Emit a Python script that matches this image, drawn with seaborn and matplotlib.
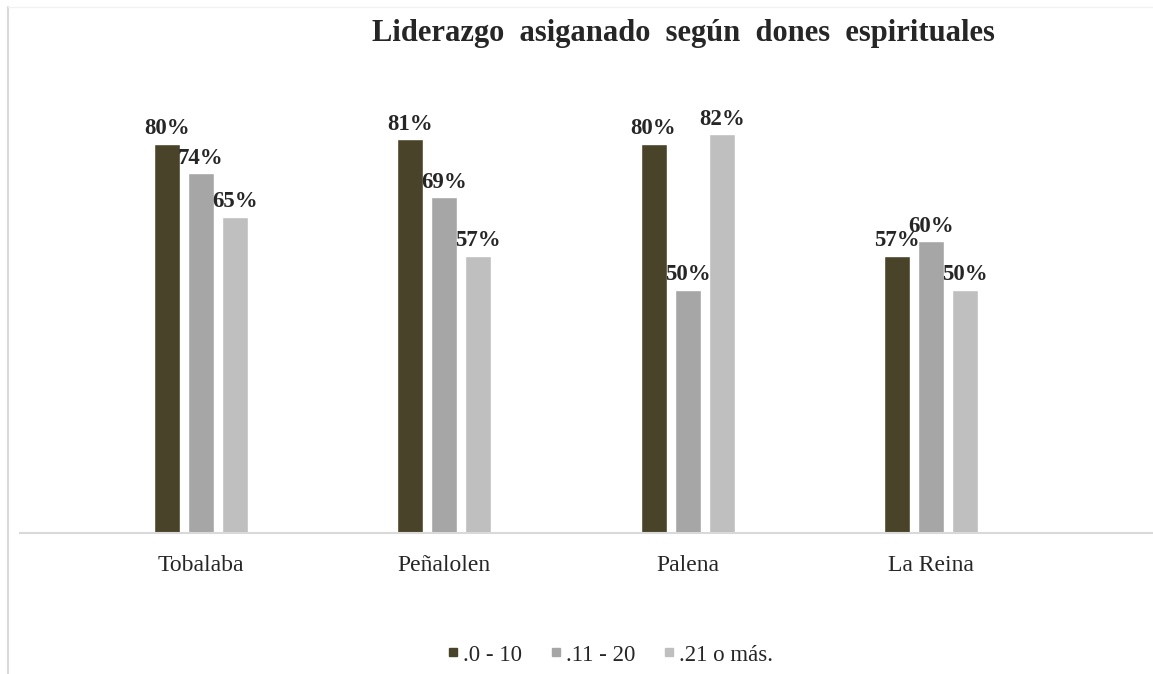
import pandas as pd
import matplotlib.pyplot as plt
import seaborn as sns
from matplotlib.lines import Line2D

# Datos
sedes = ['Tobalaba', 'Peñalolen', 'Palena', 'La Reina']
rangos = ['.0 - 10', '.11 - 20', '.21 o más.']
rango_0_10 = [80, 81, 80, 57]
rango_11_20 = [74, 69, 50, 60]
rango_21_mas = [65, 57, 82, 50]
colores = ['#494429', '#a6a6a6', '#bfbfbf']

# Tabla larga para seaborn
df = pd.DataFrame({
    'sede': sedes * 3,
    'rango': [rangos[0]] * 4 + [rangos[1]] * 4 + [rangos[2]] * 4,
    'valor': rango_0_10 + rango_11_20 + rango_21_mas,
})

sns.set_style('white')
plt.rcParams['font.family'] = ['Liberation Serif', 'DejaVu Serif']

fig = plt.figure(figsize=(11.53, 6.74), dpi=100)
ax = fig.add_axes([20 / 1153, 141 / 674, 1133 / 1153, 438 / 674])

sns.barplot(data=df, x='sede', y='valor', hue='rango', palette=colores,
            width=0.42, gap=0.236, ax=ax, legend=False, saturation=1)

for cont in ax.containers:
    ax.bar_label(cont, fmt='%.0f%%', padding=3, fontsize=16.5, fontweight='bold')

ax.set_xlim(-0.744, 3.913)
ax.set_ylim(0, 90)
ax.set_yticks([])
ax.set_xlabel('')
ax.set_ylabel('')
for s in ['top', 'right', 'left']:
    ax.spines[s].set_visible(False)
ax.spines['bottom'].set_color('#d9d9d9')
ax.spines['bottom'].set_linewidth(1.5)
ax.tick_params(axis='x', length=0, pad=16, labelsize=17)

# Titulo
fig.text(683 / 1153, 1 - 33 / 674, 'Liderazgo  asiganado  según  dones  espirituales',
         ha='center', va='center', fontsize=22, fontweight='bold')

# Borde del area del grafico
fig.add_artist(Line2D([7.5 / 1153, 7.5 / 1153], [0, 1 - 7 / 674], color='#d9d9d9', lw=1.5))
fig.add_artist(Line2D([7.5 / 1153, 1], [1 - 7 / 674, 1 - 7 / 674], color='#f2f2f2', lw=1))

# Leyenda
handles = [Line2D([], [], marker='s', linestyle='', markersize=5.5, color=c) for c in colores]
fig.legend(handles, rangos, loc='center', bbox_to_anchor=(609 / 1153, 1 - 655 / 674),
           ncol=3, frameon=False, fontsize=16.5, handletextpad=0.1, columnspacing=1.1,
           handlelength=0.7)

fig.savefig('out.png', dpi=100)
